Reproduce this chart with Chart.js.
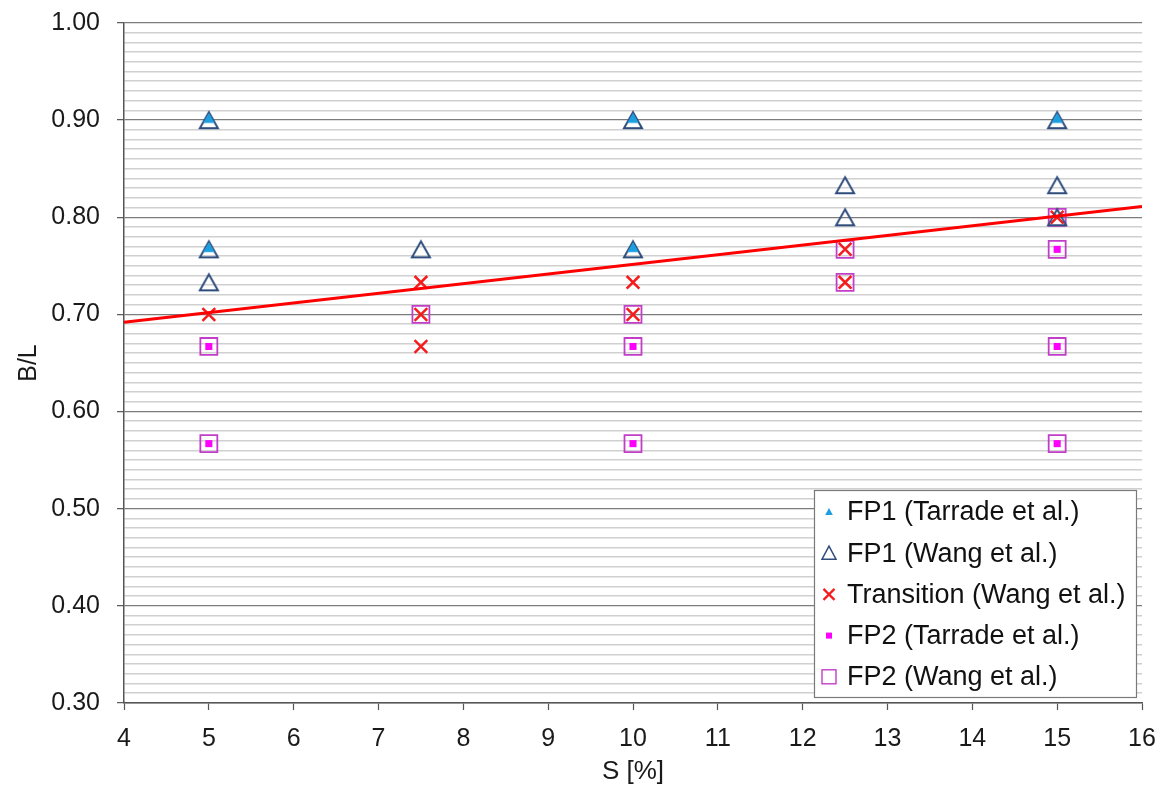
<!DOCTYPE html>
<html>
<head>
<meta charset="utf-8">
<title>B/L versus S</title>
<script src="https://cdn.jsdelivr.net/npm/chart.js@4/dist/chart.umd.min.js"></script>
<style>
  html, body { margin: 0; padding: 0; background: #ffffff; }
  #wrap { width: 1171px; height: 785px; position: relative; }
  canvas { display: block; background: #ffffff; }
</style>
</head>
<body>
<div id="wrap"><canvas id="chart" width="1171" height="785"></canvas></div>
<script>
// ---- data: slope S [%] and ratio B/L for each regime ----
const seriesLabels = [
  'FP1 (Tarrade et al.)',
  'FP1 (Wang et al.)',
  'Transition (Wang et al.)',
  'FP2 (Tarrade et al.)',
  'FP2 (Wang et al.)'
];

const fp1TarradeS  = [5, 5, 10, 10, 15];
const fp1TarradeBL = [0.900, 0.767, 0.900, 0.767, 0.900];

const fp1WangS  = [5, 5, 5, 7.5, 10, 10, 12.5, 12.5, 15, 15, 15];
const fp1WangBL = [0.900, 0.767, 0.733, 0.767, 0.900, 0.767, 0.833, 0.800, 0.900, 0.833, 0.800];

const transitionS  = [5, 7.5, 7.5, 7.5, 10, 10, 12.5, 12.5, 15];
const transitionBL = [0.700, 0.733, 0.700, 0.667, 0.733, 0.700, 0.767, 0.733, 0.800];

const fp2TarradeS  = [5, 5, 10, 10, 15, 15, 15];
const fp2TarradeBL = [0.667, 0.567, 0.667, 0.567, 0.767, 0.667, 0.567];

const fp2WangS  = [5, 5, 7.5, 10, 10, 10, 12.5, 12.5, 15, 15, 15, 15];
const fp2WangBL = [0.667, 0.567, 0.700, 0.700, 0.667, 0.567, 0.767, 0.733, 0.800, 0.767, 0.667, 0.567];

// boundary line between the two regimes
const boundaryS  = [4, 16];
const boundaryBL = [0.692, 0.811];

// axis ranges and tick steps
const xMin = 4, xMax = 16, xStep = 1;
const yMin = 0.30, yMax = 1.00, yMinorStep = 0.01;

// ---- helpers ----
const FONT = '"Liberation Sans", Arial, Helvetica, sans-serif';
const pairs = (xs, ys) => xs.map((x, i) => ({ x: x, y: ys[i] }));
const isMajor = v => Math.round(v * 100) % 10 === 0;

// marker images: triangles are centred on their bounding box
function triangleImage(w, h, dy, fill, stroke, lw) {
  const pad = 3;
  const c = document.createElement('canvas');
  c.width = Math.ceil(w + 2 * pad);
  c.height = Math.ceil(h + 2 * Math.abs(dy) + 2 * pad);
  const g = c.getContext('2d');
  const cx = c.width / 2, cy = c.height / 2 + dy;
  g.beginPath();
  g.moveTo(cx, cy - h / 2);
  g.lineTo(cx + w / 2, cy + h / 2);
  g.lineTo(cx - w / 2, cy + h / 2);
  g.closePath();
  if (fill) { g.fillStyle = fill; g.fill(); }
  if (stroke) { g.lineWidth = lw; g.strokeStyle = stroke; g.lineJoin = 'miter'; g.stroke(); }
  return c;
}

const COLORS = {
  cyan: '#1c9fe0',
  navy: '#2f4d7c',
  red: '#f41c1c',
  magenta: '#ff00ff',
  purple: '#c23ec8',
  line: '#ff0000'
};

const hollowTriangle = triangleImage(18, 16, 0, null, COLORS.navy, 2);
const filledTriangle = triangleImage(11.5, 10, -2.2, COLORS.cyan, null, 0);

// ---- legend drawn inside the plot area, lower right ----
const legendMarkers = [
  (g, x, y) => { g.beginPath(); g.moveTo(x, y - 4); g.lineTo(x + 3.8, y + 3); g.lineTo(x - 3.8, y + 3); g.closePath(); g.fillStyle = COLORS.cyan; g.fill(); },
  (g, x, y) => { g.beginPath(); g.moveTo(x, y - 7); g.lineTo(x + 7, y + 6); g.lineTo(x - 7, y + 6); g.closePath(); g.lineWidth = 1.5; g.strokeStyle = COLORS.navy; g.stroke(); },
  (g, x, y) => { g.beginPath(); g.moveTo(x - 5.5, y - 5.5); g.lineTo(x + 5.5, y + 5.5); g.moveTo(x + 5.5, y - 5.5); g.lineTo(x - 5.5, y + 5.5); g.lineWidth = 2.2; g.strokeStyle = COLORS.red; g.stroke(); },
  (g, x, y) => { g.fillStyle = COLORS.magenta; g.fillRect(x - 3, y - 3, 6, 6); },
  (g, x, y) => { g.lineWidth = 1.4; g.strokeStyle = COLORS.purple; g.strokeRect(x - 7, y - 7, 14, 14); }
];

const insideLegend = {
  id: 'insideLegend',
  afterDraw(chart) {
    const g = chart.ctx;
    const area = chart.chartArea;
    const w = 322, h = 207;
    const bx = area.right - 6 - w, by = area.bottom - 6 - h;
    g.save();
    g.fillStyle = '#ffffff';
    g.fillRect(bx, by, w, h);
    g.lineWidth = 1.2;
    g.strokeStyle = '#7a7a7a';
    g.strokeRect(bx + 0.5, by + 0.5, w, h);
    g.font = '27px ' + FONT;
    g.textBaseline = 'middle';
    g.textAlign = 'left';
    chart.data.datasets.forEach((ds, i) => {
      if (i >= seriesLabels.length) return;
      const y = by + 22 + i * 41.2;
      legendMarkers[i](g, bx + 15, y);
      g.fillStyle = '#111111';
      g.fillText(ds.label, bx + 33, y + 1);
    });
    g.restore();
  }
};

// ---- chart ----
new Chart(document.getElementById('chart'), {
  type: 'scatter',
  data: {
    datasets: [
      {
        label: seriesLabels[0],
        data: pairs(fp1TarradeS, fp1TarradeBL),
        pointStyle: filledTriangle,
        pointRadius: 8
      },
      {
        label: seriesLabels[1],
        data: pairs(fp1WangS, fp1WangBL),
        pointStyle: hollowTriangle,
        pointRadius: 10
      },
      {
        label: seriesLabels[2],
        data: pairs(transitionS, transitionBL),
        pointStyle: 'crossRot',
        pointRadius: 9,
        borderColor: COLORS.red,
        pointBorderWidth: 2.5,
        backgroundColor: COLORS.red
      },
      {
        label: seriesLabels[3],
        data: pairs(fp2TarradeS, fp2TarradeBL),
        pointStyle: 'rect',
        pointRadius: 5,
        backgroundColor: COLORS.magenta,
        borderColor: COLORS.magenta,
        pointBorderWidth: 0
      },
      {
        label: seriesLabels[4],
        data: pairs(fp2WangS, fp2WangBL),
        pointStyle: 'rect',
        pointRadius: 12,
        backgroundColor: 'rgba(0,0,0,0)',
        borderColor: COLORS.purple,
        pointBorderWidth: 1.8
      },
      {
        label: 'boundary',
        data: pairs(boundaryS, boundaryBL),
        showLine: true,
        pointRadius: 0,
        borderColor: COLORS.line,
        borderWidth: 3,
        fill: false,
        order: -1
      }
    ]
  },
  options: {
    responsive: false,
    animation: false,
    events: [],
    layout: { padding: { top: 23, right: 29, bottom: 0, left: 0 } },
    plugins: {
      legend: { display: false },
      tooltip: { enabled: false },
      title: { display: false }
    },
    scales: {
      x: {
        type: 'linear',
        min: xMin,
        max: xMax,
        afterFit(scale) { scale.height = 82; },
        border: { display: true, color: '#555555', width: 1.5 },
        grid: {
          drawOnChartArea: false,
          drawTicks: true,
          tickLength: 7,
          tickColor: '#555555',
          tickWidth: 1.2
        },
        ticks: {
          stepSize: xStep,
          padding: 14,
          color: '#1a1a1a',
          font: { family: FONT, size: 25 },
          maxRotation: 0,
          callback: v => String(v)
        },
        title: {
          display: true,
          text: 'S [%]',
          color: '#1a1a1a',
          font: { family: FONT, size: 26, lineHeight: 1 },
          padding: { top: 0, bottom: 0 }
        }
      },
      y: {
        type: 'linear',
        min: yMin,
        max: yMax,
        afterFit(scale) {
          scale.width = 124;
          // only half a label of room is needed above and below
          scale.paddingTop = 15;
          scale.paddingBottom = 15;
        },
        border: { display: true, color: '#555555', width: 1.5 },
        grid: {
          drawOnChartArea: true,
          drawTicks: true,
          tickLength: 7,
          color: c => (c.tick && isMajor(c.tick.value)) ? '#7c7c7c' : '#d0d0d0',
          lineWidth: c => (c.tick && isMajor(c.tick.value)) ? 1.3 : 1.6,
          tickColor: c => (c.tick && isMajor(c.tick.value)) ? '#555555' : 'rgba(0,0,0,0)',
          tickWidth: 1.2
        },
        ticks: {
          stepSize: yMinorStep,
          autoSkip: false,
          padding: 17,
          color: '#1a1a1a',
          font: { family: FONT, size: 25 },
          callback: v => isMajor(v) ? v.toFixed(2) : ''
        },
        title: {
          display: true,
          text: 'B/L',
          color: '#1a1a1a',
          font: { family: FONT, size: 25, lineHeight: 1 },
          padding: { top: 17, bottom: 0 }
        }
      }
    }
  },
  plugins: [insideLegend]
});
</script>
</body>
</html>
